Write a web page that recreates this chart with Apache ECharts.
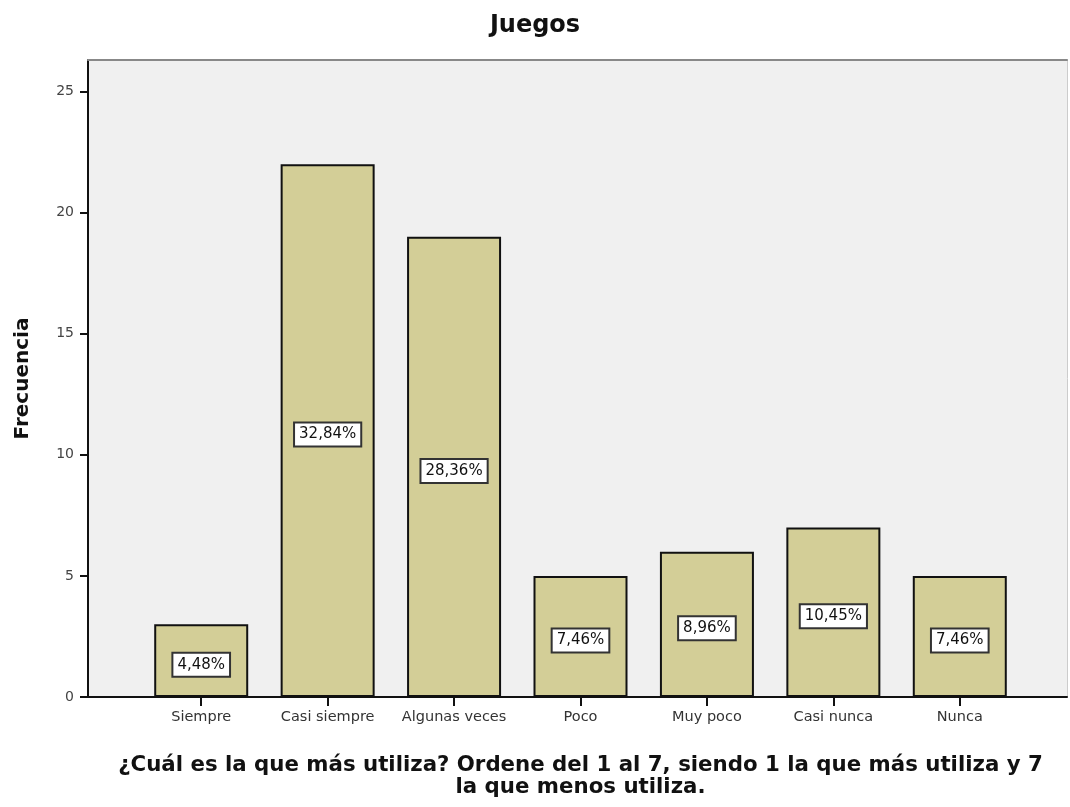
<!DOCTYPE html>
<html><head><meta charset="utf-8">
<script src="https://cdn.jsdelivr.net/npm/echarts@6/dist/echarts.min.js"></script>
<style>html,body{margin:0;padding:0;background:#fff}#c{width:1070px;height:807px}</style>
</head><body><div id="c"></div>
<script>
const categories = ['Siempre','Casi siempre','Algunas veces','Poco','Muy poco','Casi nunca','Nunca'];
const frequencies = [3,22,19,5,6,7,5];
const yTicks = [0,5,10,15,20,25];
const total = frequencies.reduce((a,b)=>a+b,0);
const pct = v => (v/total*100).toFixed(2).replace('.',',') + '%';

const chart = echarts.init(document.getElementById('c'));
chart.setOption({
  animation:false,
  backgroundColor:'#ffffff',
  title:{text:'Juegos',left:'center',top:9,textStyle:{fontFamily:'DejaVu Sans',fontWeight:'bold',fontSize:24,color:'#111'}},
  grid:[
    {left:88,right:3,top:60,bottom:110,show:true,backgroundColor:'#f0f0f0',borderWidth:0,outerBoundsMode:'none',containLabel:false},
    {left:138,right:47,top:60,bottom:110,outerBoundsMode:'none',containLabel:false}
  ],
  xAxis:[
    {gridIndex:0,type:'value',min:0,max:1,axisLine:{onZero:false,lineStyle:{color:'#111',width:2}},axisTick:{show:false},axisLabel:{show:false},splitLine:{show:false}},
    {gridIndex:0,type:'value',position:'top',min:0,max:1,axisLine:{onZero:false,lineStyle:{color:'#888',width:2}},axisTick:{show:false},axisLabel:{show:false},splitLine:{show:false}},
    {gridIndex:1,type:'category',data:categories,
      axisLine:{show:false},
      axisTick:{show:true,alignWithLabel:true,interval:0,length:9,lineStyle:{color:'#111',width:2}},
      axisLabel:{interval:0,margin:13,fontFamily:'DejaVu Sans',fontSize:14.5,color:'#333'},
      name:'¿Cuál es la que más utiliza? Ordene del 1 al 7, siendo 1 la que más utiliza y 7\nla que menos utiliza.',
      nameLocation:'middle',nameGap:57,
      nameTextStyle:{fontFamily:'DejaVu Sans',fontWeight:'bold',fontSize:21.3,lineHeight:22,color:'#111'}}
  ],
  yAxis:[
    {gridIndex:0,type:'value',min:0,max:1,show:false},
    {gridIndex:0,type:'value',position:'right',min:0,max:1,axisLine:{show:true,onZero:false,lineStyle:{color:'#ccc',width:1}},axisTick:{show:false},axisLabel:{show:false},splitLine:{show:false}},
    {gridIndex:1,type:'value',min:0,max:26.3,interval:5,offset:50,
      axisLine:{show:true,lineStyle:{color:'#111',width:2}},
      axisTick:{show:true,length:8,customValues:yTicks,lineStyle:{color:'#111',width:2}},
      axisLabel:{margin:14,customValues:yTicks,fontFamily:'DejaVu Sans',fontSize:14,color:'#444'},
      splitLine:{show:false},
      name:'Frecuencia',nameLocation:'middle',nameGap:55,nameRotate:90,
      nameTextStyle:{fontFamily:'DejaVu Sans',fontWeight:'bold',fontSize:20,color:'#111'}}
  ],
  series:[{
    type:'bar',xAxisIndex:2,yAxisIndex:2,data:frequencies,barWidth:94,
    itemStyle:{color:'#d3ce97',borderColor:'#111',borderWidth:2},
    label:{show:true,position:'inside',offset:[0,4],formatter:p=>pct(p.value),
      fontFamily:'DejaVu Sans',fontSize:15,color:'#111',backgroundColor:'#fff',
      borderColor:'#333',borderWidth:2,padding:[4,4,3,4]}
  }]
});
</script></body></html>
